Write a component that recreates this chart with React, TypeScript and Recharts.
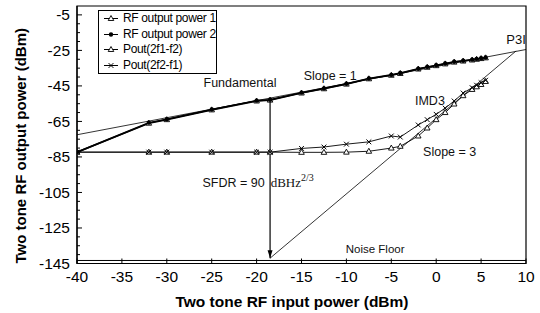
import React from 'react';
import {
  ComposedChart,
  Line,
  XAxis,
  YAxis,
  ReferenceLine,
  ReferenceDot,
  ReferenceArea,
  Legend,
} from 'recharts';

// ---------- data ----------
const inputPower = [-40, -32, -30, -25, -20, -18.5, -15, -12.5, -10, -7.5, -5, -4, -2, -1, 0, 1, 2, 3, 4, 4.5, 5, 5.5];
const rfOutput1 = [-82.3, -66, -64, -58.5, -53.5, -53, -49, -46.6, -44, -41, -39, -38, -35.5, -34.5, -33.6, -32.6, -31.6, -31, -30.4, -30, -29.6, -29.2];
const rfOutput2 = [-82.3, -65.7, -63.8, -58.3, -53.3, -52.8, -48.8, -46.4, -43.8, -40.8, -38.8, -37.7, -35.3, -34.3, -33.4, -32.4, -31.4, -30.8, -30.2, -29.8, -29.4, -29];
const pout2f1f2 = [-82.3, -82.3, -82.3, -82.3, -82.3, -82.3, -82.4, -82.4, -82.3, -81.8, -80, -79, -73.2, -68.7, -64, -60, -55.2, -50.5, -47, -45.5, -44.2, -42.5];
const pout2f2f1 = [-82.3, -82.3, -82.3, -82.3, -82.3, -82.3, -80.2, -79.4, -77.8, -76.5, -73.2, -73.8, -67, -64, -61, -57.5, -53.5, -49, -46, -44.6, -43.2, -41.8];

const seriesNames = ['RF output power 1', 'RF output power 2', 'Pout(2f1-f2)', 'Pout(2f2-f1)'];

const xTicks = [-40, -35, -30, -25, -20, -15, -10, -5, 0, 5, 10];
const yTicks = [-145, -140, -135, -130, -125, -120, -115, -110, -105, -100, -95, -90, -85, -80, -75, -70, -65, -60, -55, -50, -45, -40, -35, -30, -25, -20, -15, -10, -5];
const yTickLabels = [-5, -25, -45, -65, -85, -105, -125, -145];

// extrapolation lines / annotation anchors (data coordinates)
const fundamentalFit = [{ x: -40, y: -72.5 }, { x: 10, y: -24.5 }];
const imd3Fit = [{ x: -18.5, y: -142 }, { x: 8.9, y: -25.3 }];
const sfdrLine = [{ x: -18.5, y: -53 }, { x: -18.5, y: -142 }];
const noiseFloor = -143.3;

const annotations = [
  { x: -21.85, y: -43.3, text: 'Fundamental', size: 12.5 },
  { x: -11.8, y: -39.4, text: 'Slope = 1', size: 12.5 },
  { x: 8.9, y: -19.1, text: 'P3I', size: 13 },
  { x: -0.7, y: -53.5, text: 'IMD3', size: 12.5 },
  { x: 1.5, y: -82.2, text: 'Slope = 3', size: 12.5 },
  { x: -6.8, y: -136.9, text: 'Noise Floor', size: 11.5 },
];
const sfdrLabel = { x: -19.1, y: -99.4, text: 'SFDR = 90', unit: 'dBHz', exp: '2/3' };

const tableData = inputPower.map((x, i) => ({
  x,
  f1: rfOutput1[i],
  f2: rfOutput2[i],
  p1: pout2f1f2[i],
  p2: pout2f2f1[i],
}));

// ---------- styling ----------
const SANS = '"Liberation Sans", Arial, Helvetica, sans-serif';
const SERIF = '"Liberation Serif", "Times New Roman", serif';
const Y_TICK_MARGIN = 7;
const X_TICK_MARGIN = 13;

type MarkerKind = 'triangle' | 'circle' | 'cross';
const markerOf: Record<string, MarkerKind> = {
  f1: 'triangle',
  f2: 'circle',
  p1: 'triangle',
  p2: 'cross',
};

const Marker = ({ kind, cx, cy }: { kind: MarkerKind; cx: number; cy: number }) => {
  if (kind === 'triangle') {
    return (
      <polygon
        points={`${cx},${cy - 3} ${cx - 2.8},${cy + 2} ${cx + 2.8},${cy + 2}`}
        fill="#fff"
        stroke="#000"
        strokeWidth={0.9}
      />
    );
  }
  if (kind === 'circle') {
    return <circle cx={cx} cy={cy} r={2.2} fill="#000" />;
  }
  return (
    <g stroke="#000" strokeWidth={1}>
      <line x1={cx - 2.4} y1={cy - 2.4} x2={cx + 2.4} y2={cy + 2.4} />
      <line x1={cx - 2.4} y1={cy + 2.4} x2={cx + 2.4} y2={cy - 2.4} />
    </g>
  );
};

const makeDot = (kind: MarkerKind) => (props: any) => {
  const { cx, cy, index } = props;
  if (cx == null || cy == null) return <g key={`e-${kind}-${index}`} />;
  return (
    <g key={`d-${kind}-${index}`}>
      <Marker kind={kind} cx={cx} cy={cy} />
    </g>
  );
};

const YTick = (props: any) => {
  const { x, y, payload } = props;
  const v = payload.value;
  const major = yTickLabels.includes(v);
  const ax = x + Y_TICK_MARGIN;
  return (
    <g>
      <line x1={ax} x2={ax + (major ? 5 : 3)} y1={y} y2={y} stroke="#000" strokeWidth={1} />
      {major && (
        <text x={x} y={y} textAnchor="end" dominantBaseline="central" fontSize={15.5} fontFamily={SANS} fill="#000">
          {v}
        </text>
      )}
    </g>
  );
};

const XTick = (props: any) => {
  const { x, y, payload } = props;
  const ay = y - X_TICK_MARGIN;
  return (
    <g>
      <line x1={x} x2={x} y1={ay} y2={ay - 5} stroke="#000" strokeWidth={1} />
      <text x={x} y={y} textAnchor="middle" dominantBaseline="central" fontSize={15.5} fontFamily={SANS} fill="#000">
        {payload.value}
      </text>
    </g>
  );
};

const LegendBox = (props: any) => {
  const payload = [...(props.payload || [])].sort(
    (a: any, b: any) => seriesNames.indexOf(a.value) - seriesNames.indexOf(b.value)
  );
  return (
    <div
      style={{
        border: '1px solid #000',
        background: '#fff',
        boxSizing: 'border-box',
        width: 119,
        padding: 0,
        fontFamily: SANS,
        fontSize: 12,
        letterSpacing: '-0.35px',
        color: '#000',
      }}
    >
      {payload.map((entry: any, i: number) => {
        const kind = markerOf[entry.dataKey as string] || 'triangle';
        return (
          <div key={i} style={{ display: 'flex', alignItems: 'center', height: 15.5, lineHeight: '15.5px', whiteSpace: 'nowrap' }}>
            <svg width={24} height={15} style={{ flex: 'none' }}>
              <line x1={5} x2={19} y1={7.5} y2={7.5} stroke="#000" strokeWidth={1} />
              <Marker kind={kind} cx={12} cy={7.5} />
            </svg>
            <span>{entry.value}</span>
          </div>
        );
      })}
    </div>
  );
};

const AnnotationText = (text: string, size: number) => (props: any) => {
  const { cx, cy } = props;
  return (
    <text x={cx} y={cy} textAnchor="middle" dominantBaseline="central" fontSize={size} fontFamily={SANS} fill="#111">
      {text}
    </text>
  );
};

const SfdrText = (props: any) => {
  const { cx, cy } = props;
  return (
    <g>
      <text x={cx} y={cy} textAnchor="end" dominantBaseline="central" fontSize={12.5} fontFamily={SANS} fill="#111">
        {sfdrLabel.text}
      </text>
      <text x={cx + 6} y={cy} textAnchor="start" dominantBaseline="central" fontSize={13} fontFamily={SERIF} fill="#111">
        {sfdrLabel.unit}
        <tspan fontSize={10} dy={-6}>
          {sfdrLabel.exp}
        </tspan>
      </text>
    </g>
  );
};

const ArrowHead = (props: any) => {
  const { cx, cy } = props;
  return <polygon points={`${cx},${cy} ${cx - 2.5},${cy - 8} ${cx + 2.5},${cy - 8}`} fill="#000" />;
};

export default function App() {
  return (
    <div style={{ position: 'absolute', left: 0, top: 0, width: 540, height: 313, background: '#fff' }}>
      <ComposedChart
        width={540}
        height={313}
        data={tableData}
        margin={{ top: 6, right: 14, bottom: 0, left: 0 }}
      >
        <XAxis
          dataKey="x"
          type="number"
          domain={[-40, 10]}
          ticks={xTicks}
          interval={0}
          allowDataOverflow
          height={49.5}
          tickSize={0}
          tickLine={false}
          tickMargin={X_TICK_MARGIN}
          axisLine={{ stroke: '#000', strokeWidth: 1.2 }}
          tick={<XTick />}
          label={{
            value: 'Two tone RF input power (dBm)',
            position: 'center',
            dx: -9.5,
            dy: 12.75,
            style: { fontSize: 15.5, fontWeight: 'bold', fill: '#000', fontFamily: SANS },
          }}
        />
        <YAxis
          type="number"
          domain={[-145, 0]}
          ticks={yTicks}
          interval={0}
          allowDataOverflow
          width={77}
          tickSize={0}
          tickLine={false}
          tickMargin={Y_TICK_MARGIN}
          axisLine={{ stroke: '#000', strokeWidth: 1.2 }}
          tick={<YTick />}
          label={{
            value: 'Two tone RF output power (dBm)',
            position: 'center',
            angle: -90,
            dx: -18,
            dy: 11,
            style: { fontSize: 15, fontWeight: 'bold', fill: '#000', fontFamily: SANS, textAnchor: 'middle' },
          }}
        />
        <ReferenceArea x1={-40} x2={10} y1={-145} y2={0} fill="none" fillOpacity={0} stroke="#000" strokeWidth={1.2} />
        <ReferenceLine y={noiseFloor} stroke="#000" strokeWidth={1} />
        <ReferenceLine segment={fundamentalFit} stroke="#000" strokeWidth={0.8} />
        <ReferenceLine segment={imd3Fit} stroke="#000" strokeWidth={0.8} />
        <ReferenceLine segment={sfdrLine} stroke="#000" strokeWidth={1.2} />
        <ReferenceDot x={sfdrLine[1].x} y={sfdrLine[1].y} r={0} shape={ArrowHead} />

        <Line
          dataKey="p1"
          name={seriesNames[2]}
          stroke="#000"
          strokeWidth={0.9}
          dot={makeDot('triangle')}
          activeDot={false}
          isAnimationActive={false}
        />
        <Line
          dataKey="p2"
          name={seriesNames[3]}
          stroke="#000"
          strokeWidth={0.9}
          dot={makeDot('cross')}
          activeDot={false}
          isAnimationActive={false}
        />
        <Line
          dataKey="f1"
          name={seriesNames[0]}
          stroke="#000"
          strokeWidth={1.6}
          dot={makeDot('triangle')}
          activeDot={false}
          isAnimationActive={false}
        />
        <Line
          dataKey="f2"
          name={seriesNames[1]}
          stroke="#000"
          strokeWidth={1.6}
          dot={makeDot('circle')}
          activeDot={false}
          isAnimationActive={false}
        />

        {annotations.map((a, i) => (
          <ReferenceDot key={`a-${i}`} x={a.x} y={a.y} r={0} shape={AnnotationText(a.text, a.size)} />
        ))}
        <ReferenceDot x={sfdrLabel.x} y={sfdrLabel.y} r={0} shape={SfdrText} />

        <Legend
          layout="vertical"
          align="center"
          verticalAlign="middle"
          content={<LegendBox />}
          wrapperStyle={{ left: 98, top: 10, width: 119, height: 64, margin: 0 }}
        />
      </ComposedChart>
    </div>
  );
}
